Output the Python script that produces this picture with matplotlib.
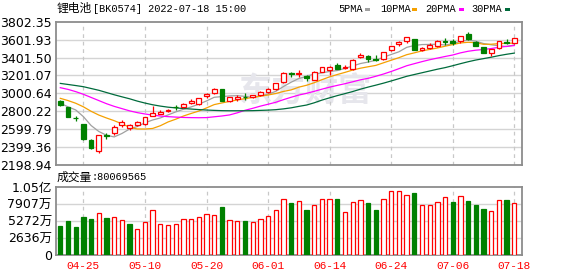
import matplotlib
matplotlib.use('Agg')
import matplotlib.pyplot as plt
from matplotlib.patches import Rectangle
import numpy as np
import pandas as pd

# ---------------- data ----------------
dates = ['04-20','04-21','04-22','04-25','04-26','04-27','04-28','04-29',
         '05-05','05-06','05-09','05-10','05-11','05-12','05-13','05-16','05-17','05-18','05-19','05-20',
         '05-23','05-24','05-25','05-26','05-27','05-30','05-31',
         '06-01','06-02','06-06','06-07','06-08','06-09','06-10','06-13','06-14','06-15','06-16','06-17',
         '06-20','06-21','06-22','06-23','06-24','06-27','06-28','06-29','06-30',
         '07-01','07-04','07-05','07-06','07-07','07-08','07-11','07-12','07-13','07-14','07-15','07-18']

opens  = [2915,2844,2722,2657,2478,2359,2530,2553,2643,2613,2643,2657,2750,2773,2802,2846,2844,2889,2878,2967,
          3008,3049,2918,2940,2960,2956,2979,3016,3046,3124,3228,3215,3198,3150,3239,3265,3318,3284,3270,3404,
          3418,3382,3381,3482,3549,3583,3609,3490,3511,3534,3585,3590,3583,3662,3580,3516,3455,3505,3570,3560]
highs  = [2925,2848,2747,2660,2485,2540,2560,2643,2702,2657,2690,2740,2859,2814,2822,2867,2890,2937,2950,3000,
          3055,3052,2960,2979,3008,2985,3025,3060,3118,3243,3243,3262,3210,3248,3300,3305,3343,3318,3380,3449,
          3425,3430,3465,3535,3585,3632,3612,3520,3560,3594,3620,3605,3645,3685,3588,3520,3493,3583,3605,3620]
lows   = [2860,2735,2694,2480,2378,2336,2493,2538,2620,2590,2635,2643,2745,2768,2792,2814,2838,2878,2870,2952,
          2997,2915,2905,2912,2926,2945,2970,3005,3035,3115,3180,3180,3142,3145,3235,3206,3270,3275,3265,3400,
          3351,3360,3376,3475,3530,3560,3486,3470,3500,3520,3545,3545,3560,3603,3530,3449,3422,3495,3555,3555]
closes = [2867,2739,2720,2486,2392,2534,2527,2627,2676,2643,2676,2733,2784,2792,2812,2844,2881,2915,2945,2993,
          3049,2918,2956,2958,2955,2979,3016,3052,3113,3225,3220,3225,3169,3243,3292,3299,3276,3292,3374,3430,
          3381,3378,3460,3530,3578,3628,3486,3511,3538,3590,3580,3562,3642,3605,3532,3449,3493,3583,3567,3616]

# volume in 万
volumes = [4470,5241,4316,5857,5549,6423,5703,5806,5344,4778,3956,5035,6885,4778,4573,4727,5498,5498,5806,6268,
           6114,7399,5344,5189,5241,5035,5498,6011,6885,8580,8015,8272,6936,7656,8580,8580,8632,6577,8118,8426,
           8015,6936,8580,9814,9814,9197,9557,7656,7656,8118,8889,8169,9043,8324,7707,7090,6731,8426,8478,8007]
vol_up = [0,0,0,0,0,1,0,1,1,0,1,1,1,1,1,1,1,1,1,1,1,0,1,1,0,1,1,1,1,1,
          0,1,0,1,1,1,0,1,1,1,0,0,1,1,1,1,0,1,1,1,1,0,1,0,0,0,1,1,0,1]
last_volume = '80069565'

# moving-average values read from the chart where the window is not yet full
ma5_lead  = [2890,2850,2815,2740]
ma10_lead = [2945,2920,2890,2850,2800,2758,2725,2695,2660]
ma20_lead = [3064,3045,3020,2990,2955,2920,2885,2855,2830,2805,2785,2770,2757,2747,2740,2735,2731,2729,2728]
ma30_lead = [3112,3100,3088,3075,3055,3035,3010,2985,2962,2940,2914,2892,2873,2858,2846,2838,2831,2825,2819,
             2814,2810,2807,2806,2806,2806,2807,2810,2813,2818]

price_ticks = [2198.94,2399.36,2599.79,2800.22,3000.64,3201.07,3401.50,3601.93,3802.35]
vol_ticks = [0,2636,5272,7907,10543]
vol_tick_labels = ['0','2636万','5272万','7907万','1.05亿']
date_ticks = ['04-25','05-10','05-20','06-01','06-14','06-24','07-06','07-18']

title_name = '锂电池'
title_rest = '[BK0574] 2022-07-18 15:00'
ma_names = ['5PMA','10PMA','20PMA','30PMA']

# ---------------- styling ----------------
RED = '#ff0000'
GREEN = '#008000'
MA_COLORS = ['#a0a0a0', '#f5a000', '#ff00ff', '#006b3c']
GRID = '#d4d4d4'
SPINE = '#8c8c8c'

W, H = 578, 276
fig = plt.figure(figsize=(W/100, H/100), dpi=100)

def fx(px): return px / W
def fy(py): return 1 - py / H

L, R = 56, 522
ax = fig.add_axes([fx(L), fy(165), (R-L)/W, (165-21.7)/H])
axv = fig.add_axes([fx(L), fy(255), (R-L)/W, (255-186.7)/H])

n = len(closes)
x = np.arange(n)
xlim = (-0.56, 60.0)

def ma(period, lead):
    s = pd.Series(closes, dtype=float).rolling(period).mean().to_numpy()
    s[:period-1] = lead
    return s

mas = [ma(5, ma5_lead), ma(10, ma10_lead), ma(20, ma20_lead), ma(30, ma30_lead)]

tick_idx = [dates.index(d) for d in date_ticks]

for a in (ax, axv):
    a.set_xlim(*xlim)
    for s in a.spines.values():
        s.set_color(SPINE)
        s.set_linewidth(1.3)
    a.tick_params(length=0)
    for t in tick_idx:
        a.axvline(t, color='#c8c8c8', lw=0.9, dashes=(3, 3), zorder=0.6)

# price panel
ax.set_ylim(price_ticks[0], price_ticks[-1])
ax.set_yticks(price_ticks)
ax.set_yticklabels([f'{v:.2f}' for v in price_ticks], fontsize=9, family='DejaVu Sans')
ax.tick_params(axis='y', pad=3)
ax.set_xticks([])
for v in price_ticks[1:-1]:
    ax.axhline(v, color=GRID, lw=1.0, zorder=0.5)

ax.text(0.535, 0.51, '东方财富', transform=ax.transAxes, ha='center', va='center',
        fontsize=24, fontweight='bold', color='#e6e6ec', family='Noto Sans CJK SC', zorder=0.55)

for m, c in zip(mas, MA_COLORS):
    ax.plot(x, m, color=c, lw=0.9, zorder=2)

bw = 0.62
for i in range(n):
    o, h, l, c = opens[i], highs[i], lows[i], closes[i]
    up = c > o
    col = RED if up else GREEN
    ax.vlines(i, l, h, color=col, lw=0.9, zorder=3)
    bottom = min(o, c)
    height = abs(c - o)
    ax.add_patch(Rectangle((i - bw/2, bottom), bw, height,
                           facecolor='white' if up else GREEN,
                           edgecolor=col, lw=0.9, zorder=4))

# volume panel
axv.set_ylim(0, vol_ticks[-1])
axv.set_yticks(vol_ticks)
axv.set_yticklabels(vol_tick_labels, fontsize=9, family=['DejaVu Sans', 'Noto Sans CJK SC'])
axv.tick_params(axis='y', pad=3)
for v in vol_ticks[1:-1]:
    axv.axhline(v, color=GRID, lw=1.0, zorder=0.5)
vw = 0.56
for i in range(n):
    if vol_up[i]:
        axv.bar(i, volumes[i], width=vw, facecolor='white', edgecolor=RED, lw=0.9, zorder=3)
    else:
        axv.bar(i, volumes[i], width=vw, facecolor=GREEN, edgecolor=GREEN, lw=0.9, zorder=3)
axv.set_xticks(tick_idx)
axv.set_xticklabels(date_ticks, fontsize=8, family='Liberation Mono', color=RED)
axv.tick_params(axis='x', pad=4)

# header texts
fig.text(fx(57), fy(8.5), title_name, fontsize=8.5, family='Noto Sans CJK SC', va='center', ha='left')
fig.text(fx(93), fy(8.5), title_rest, fontsize=7.4, family='Liberation Mono', va='center', ha='left')

leg_text_x = [338.5, 380.5, 425.0, 471.0]
leg_dash_x = [364.7, 412.0, 459.0, 504.7]
for name, tx, dx, c in zip(ma_names, leg_text_x, leg_dash_x, MA_COLORS):
    fig.text(fx(tx), fy(8.5), name, fontsize=7.4, family='Liberation Mono', va='center', ha='left')
    fig.add_artist(Rectangle((fx(dx), fy(11)), 5/W, 3/H, transform=fig.transFigure,
                             facecolor=c, edgecolor='none'))

fig.text(fx(57), fy(177.5), '成交量', fontsize=8.5, family='Noto Sans CJK SC', va='center', ha='left')
fig.text(fx(92), fy(177.5), ':' + last_volume, fontsize=7.4, family='Liberation Mono', va='center', ha='left')

fig.savefig('out.png', dpi=100)
